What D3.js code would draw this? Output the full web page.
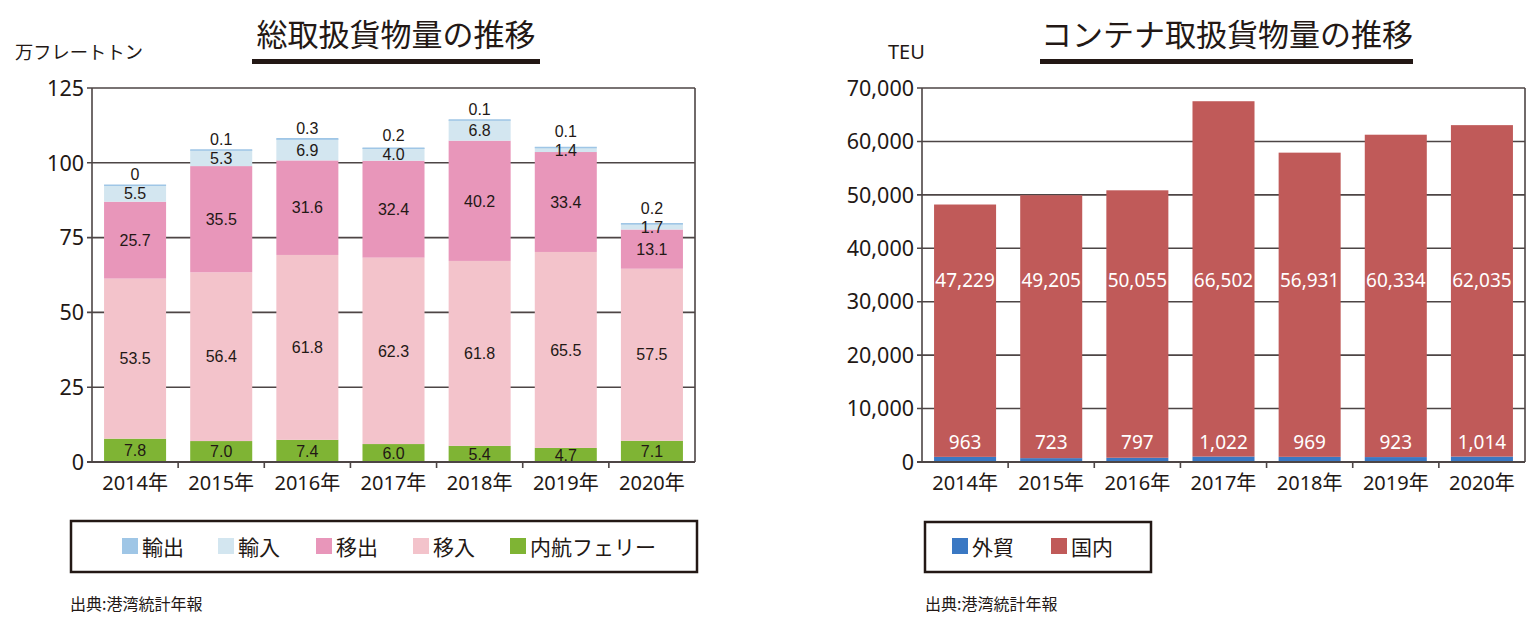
<!DOCTYPE html>
<html><head><meta charset="utf-8">
<script src="https://cdn.jsdelivr.net/npm/d3@7"></script>
<style>
body{margin:0;background:#fff;}
svg{display:block;}
text{font-family:"Noto Sans CJK JP","Noto Sans",sans-serif;fill:#231815;}
.num{font-family:"Noto Sans","Noto Sans CJK JP",sans-serif;}
.lbl{font-family:"Liberation Sans","Noto Sans",sans-serif;}
</style></head><body>
<svg id="c" width="1532" height="620"></svg>
<script>
const years = ["2014年","2015年","2016年","2017年","2018年","2019年","2020年"];
// 総取扱貨物量 (万フレートトン)
const ferry   = [7.8, 7.0, 7.4, 6.0, 5.4, 4.7, 7.1];
const inbound = [53.5, 56.4, 61.8, 62.3, 61.8, 65.5, 57.5];   // 移入
const outbound= [25.7, 35.5, 31.6, 32.4, 40.2, 33.4, 13.1];   // 移出
const imports = [5.5, 5.3, 6.9, 4.0, 6.8, 1.4, 1.7];          // 輸入
const exports_ = [0, 0.1, 0.3, 0.2, 0.1, 0.1, 0.2];           // 輸出
const leftTicks = [0, 25, 50, 75, 100, 125];
// コンテナ取扱貨物量 (TEU)
const foreign = [963, 723, 797, 1022, 969, 923, 1014];        // 外貿
const domestic = [47229, 49205, 50055, 66502, 56931, 60334, 62035]; // 国内
const rightTicks = [0,10000,20000,30000,40000,50000,60000,70000];

const svg = d3.select("#c");
const fmt1 = d3.format(".1f");
const fmtC = d3.format(",");
const GRID = "#4d4545";

function grid(g, x0, x1, y, ticks) {
  g.append("g").selectAll("line").data(ticks).join("line")
    .attr("x1", x0 - 5).attr("x2", x1).attr("y1", d => y(d)).attr("y2", d => y(d))
    .attr("stroke", GRID).attr("stroke-width", 1.6);
}
function frameTop(g, x0, x1, y0, y1, y, ticks, tickFmt, xs) {
  g.append("line").attr("x1", x0).attr("x2", x0).attr("y1", y0).attr("y2", y1).attr("stroke", GRID).attr("stroke-width", 1.6);
  g.append("line").attr("x1", x1).attr("x2", x1).attr("y1", y0).attr("y2", y1).attr("stroke", GRID).attr("stroke-width", 1.6);
  g.append("line").attr("x1", x0 - 5).attr("x2", x1).attr("y1", y1).attr("y2", y1).attr("stroke", GRID).attr("stroke-width", 2);
  const step = xs.step();
  const bounds = d3.range(1, years.length).map(i => x0 + i * step);
  g.append("g").selectAll("line").data(bounds).join("line")
    .attr("x1", d => d).attr("x2", d => d).attr("y1", y1).attr("y2", y1 + 6)
    .attr("stroke", GRID).attr("stroke-width", 1.6);
  g.append("g").selectAll("text").data(ticks).join("text")
    .attr("class", "num").attr("x", x0 - 8).attr("y", d => y(d)).attr("dy", "0.36em")
    .attr("text-anchor", "end").attr("font-size", 21.5).text(tickFmt);
  g.append("g").selectAll("text").data(years).join("text")
    .attr("class", "num")
    .attr("x", d => xs(d) + xs.bandwidth() / 2).attr("y", y1 + 28)
    .attr("text-anchor", "middle").attr("font-size", 20).text(d => d);
}
function titleBlock(txt, cx, x0, x1) {
  svg.append("text").attr("x", cx).attr("y", 46).attr("text-anchor", "middle")
    .attr("font-size", 31).attr("font-weight", 400).text(txt);
  svg.append("rect").attr("x", x0).attr("y", 59).attr("width", x1 - x0).attr("height", 5).attr("fill", "#231815");
}

// ---------- LEFT ----------
{
  const x0 = 92, x1 = 695, y0 = 88, y1 = 462;
  const g = svg.append("g");
  const xs = d3.scaleBand().domain(years).range([x0, x1]).paddingInner(0.28).paddingOuter(0.14);
  const y = d3.scaleLinear().domain([0, 125]).range([y1, y0]);
  grid(g, x0, x1, y, leftTicks);
  const keys = ["ferry","inbound","outbound","imports","exports"];
  const colors = {ferry:"#7fb434", inbound:"#f3c3cb", outbound:"#e896ba", imports:"#d3e6f0", exports:"#9fc6e6"};
  const rows = years.map((yr, i) => ({year: yr, ferry: ferry[i], inbound: inbound[i], outbound: outbound[i], imports: imports[i], exports: exports_[i]}));
  const stack = d3.stack().keys(keys)(rows);
  stack.forEach(layer => {
    g.append("g").selectAll("rect").data(layer).join("rect")
      .attr("x", d => xs(d.data.year)).attr("width", xs.bandwidth())
      .attr("y", d => y(d[1])).attr("height", d => Math.max(0, y(d[0]) - y(d[1])))
      .attr("fill", colors[layer.key]);
  });
  g.append("g").selectAll("line").data(stack[4]).join("line")
    .attr("x1", d => xs(d.data.year)).attr("x2", d => xs(d.data.year) + xs.bandwidth())
    .attr("y1", d => y(d[1])).attr("y2", d => y(d[1]))
    .attr("stroke", "#9fc6e6").attr("stroke-width", 1.5);
  frameTop(g, x0, x1, y0, y1, y, leftTicks, d => d, xs);
  // labels
  const midY = d => (y(d[0]) + y(d[1])) / 2;
  stack.slice(0, 4).forEach(layer => {
    g.append("g").selectAll("text").data(layer).join("text")
      .attr("class", "lbl").attr("font-size", 16).attr("text-anchor", "middle")
      .attr("x", d => xs(d.data.year) + xs.bandwidth() / 2)
      .attr("y", d => midY(d))
      .attr("dy", "0.36em")
      .text(d => fmt1(d[1] - d[0]));
  });
  g.append("g").selectAll("text").data(stack[4]).join("text")
    .attr("class", "lbl").attr("font-size", 16).attr("text-anchor", "middle")
    .attr("x", d => xs(d.data.year) + xs.bandwidth() / 2)
    .attr("y", (d, i) => Math.min(y(d[1]) - 11, midY(stack[3][i]) - 19))
    .attr("dy", "0.36em")
    .text(d => d.data.exports === 0 ? "0" : fmt1(d.data.exports));
  svg.append("text").attr("x", 15).attr("y", 59).attr("font-size", 18.3).text("万フレートトン");
  titleBlock("総取扱貨物量の推移", 396, 252, 540);
  // legend
  svg.append("rect").attr("x", 71).attr("y", 521).attr("width", 626).attr("height", 51)
    .attr("fill", "none").attr("stroke", "#231815").attr("stroke-width", 2.5);
  const leg = [["輸出","exports",122],["輸入","imports",218],["移出","outbound",316],["移入","inbound",413],["内航フェリー","ferry",510]];
  leg.forEach(([t, k, lx]) => {
    svg.append("rect").attr("x", lx).attr("y", 538).attr("width", 16).attr("height", 16).attr("fill", colors[k]);
    svg.append("text").attr("x", lx + 20).attr("y", 555).attr("font-size", 21).text(t);
  });
  svg.append("text").attr("x", 70).attr("y", 610).attr("font-size", 16).text("出典:港湾統計年報");
}

// ---------- RIGHT ----------
{
  const x0 = 922, x1 = 1525, y0 = 88, y1 = 462;
  const g = svg.append("g");
  const xs = d3.scaleBand().domain(years).range([x0, x1]).paddingInner(0.28).paddingOuter(0.14);
  const y = d3.scaleLinear().domain([0, 70000]).range([y1, y0]);
  grid(g, x0, x1, y, rightTicks);
  const rows = years.map((yr, i) => ({year: yr, foreign: foreign[i], domestic: domestic[i]}));
  const stack = d3.stack().keys(["foreign","domestic"])(rows);
  const colors = {foreign:"#3a78c3", domestic:"#c05a59"};
  stack.forEach(layer => {
    g.append("g").selectAll("rect").data(layer).join("rect")
      .attr("x", d => xs(d.data.year)).attr("width", xs.bandwidth())
      .attr("y", d => y(d[1])).attr("height", d => y(d[0]) - y(d[1]))
      .attr("fill", colors[layer.key]);
  });
  frameTop(g, x0, x1, y0, y1, y, rightTicks, fmtC, xs);
  g.append("g").selectAll("text").data(stack[1]).join("text")
    .attr("class", "num").attr("font-size", 19).style("fill", "#fff")
    .attr("text-anchor", "middle").attr("x", d => xs(d.data.year) + xs.bandwidth() / 2)
    .attr("y", y(34000)).attr("dy", "0.36em").text(d => fmtC(d.data.domestic));
  g.append("g").selectAll("text").data(stack[0]).join("text")
    .attr("class", "num").attr("font-size", 19).style("fill", "#fff")
    .attr("text-anchor", "middle").attr("x", d => xs(d.data.year) + xs.bandwidth() / 2)
    .attr("y", y(3800)).attr("dy", "0.36em").text(d => fmtC(d.data.foreign));
  svg.append("text").attr("class", "num").attr("x", 888).attr("y", 59).attr("font-size", 20).text("TEU");
  titleBlock("コンテナ取扱貨物量の推移", 1227, 1040, 1413);
  svg.append("rect").attr("x", 925).attr("y", 522).attr("width", 226).attr("height", 50)
    .attr("fill", "none").attr("stroke", "#231815").attr("stroke-width", 2.5);
  [["外貿","foreign",952],["国内","domestic",1051]].forEach(([t, k, lx]) => {
    svg.append("rect").attr("x", lx).attr("y", 538).attr("width", 16).attr("height", 16).attr("fill", colors[k]);
    svg.append("text").attr("x", lx + 20).attr("y", 555).attr("font-size", 21).text(t);
  });
  svg.append("text").attr("x", 925).attr("y", 610).attr("font-size", 16).text("出典:港湾統計年報");
}
</script></body></html>
